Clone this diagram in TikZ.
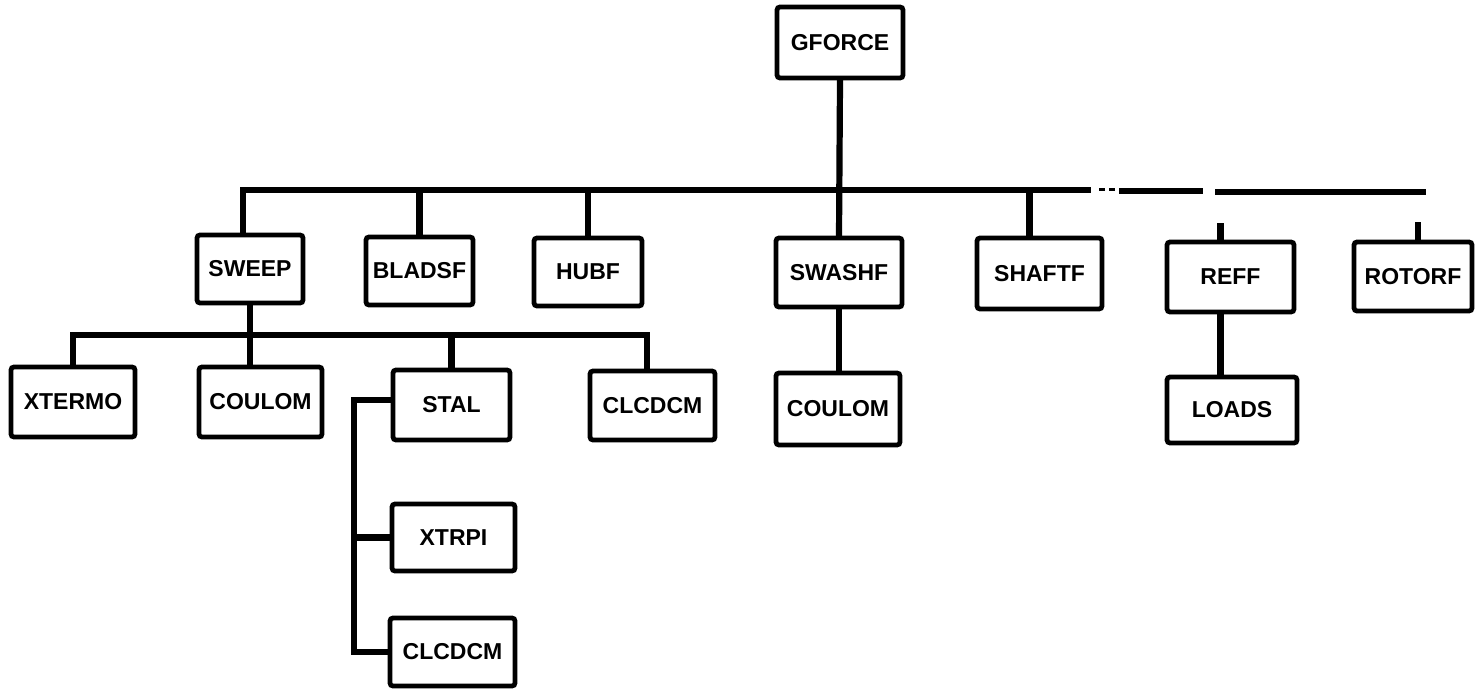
\documentclass[tikz,border=0pt]{standalone}
\usepackage{fontspec}
\setmainfont{Liberation Sans}
\begin{document}
\begin{tikzpicture}[x=0.5pt,y=-0.5pt,
  routine/.style={draw, line width=2.4pt, rounded corners=1.5pt, inner sep=0pt,
    minimum width=#1, font=\fontsize{11.5}{12}\selectfont\bfseries},
  routine/.default=62pt,
  link/.style={line width=3.1pt, line cap=rect}]
\useasboundingbox (0,0) rectangle (1475,689);

% top level
\node[routine=63pt, minimum height=35.5pt] (gforce) at (840,42.5) {GFORCE};

% first level
\node[routine=53pt, minimum height=34pt]   (sweep)  at (250,269)    {SWEEP};
\node[routine=53.5pt, minimum height=34pt] (bladsf) at (419.5,271)  {BLADSF};
\node[routine=54pt, minimum height=34pt]   (hubf)   at (588,272)    {HUBF};
\node[routine=63pt, minimum height=34.5pt] (swashf) at (839,272.5)  {SWASHF};
\node[routine=62.5pt, minimum height=35.5pt] (shaftf) at (1039.5,273.5) {SHAFTF};
\node[routine=63.5pt, minimum height=35pt] (reff)   at (1230.5,277) {REFF};
\node[routine=59pt, minimum height=34.5pt] (rotorf) at (1413,276.5) {ROTORF};

% second level
\node[routine=62pt, minimum height=35pt]   (xtermo)  at (73,402)     {XTERMO};
\node[routine=61.5pt, minimum height=35pt] (coulomA) at (260.5,402)  {COULOM};
\node[routine=58.5pt, minimum height=35pt] (stal)    at (451.5,405)  {STAL};
\node[routine=62.5pt, minimum height=34.5pt] (clcdcmA) at (652.5,405.5) {CLCDCM};
\node[routine=62pt, minimum height=36pt]   (coulomB) at (838,409)    {COULOM};
\node[routine=65pt, minimum height=33pt]   (loads)   at (1232,410)   {LOADS};

% third level
\node[routine=61.5pt, minimum height=33.5pt] (xtrpi)   at (453.5,537.5) {XTRPI};
\node[routine=62.5pt, minimum height=34pt]   (clcdcmB) at (452.5,652)   {CLCDCM};

% bus lines
\coordinate (busA) at (0,190);
\coordinate (busB) at (0,335);
\coordinate (busBend) at (647,335);
\coordinate (spine) at (354,0);

% main bus below GFORCE (broken towards the right)
\draw[link] (gforce.south) -- (swashf.north);
\draw[link] ([xshift=-3.5pt]sweep.north) -- ([xshift=-3.5pt]sweep.north |- busA) -- (1088,190);
\draw[link, line width=1.5pt] (1100,190) -- (1103,190) (1110,190) -- (1113,190);
\draw[link] (1122,191) -- (1200,191);
\draw[link] (1218,192) -- (1423,192);
\draw[link] (bladsf.north) -- (bladsf.north |- busA);
\draw[link] (hubf.north) -- (hubf.north |- busA);
\draw[link] ([xshift=-5pt]shaftf.north) -- ([xshift=-5pt]shaftf.north |- busA);
\draw[link] ([xshift=-5pt]reff.north) -- ++(0,-13);
\draw[link] ([xshift=2.5pt]rotorf.north) -- ++(0,-14);

% SWEEP calls
\draw[link] (sweep.south) -- (sweep.south |- coulomA.north);
\draw[link] (xtermo.north) -- (xtermo.north |- busB) -- (busBend) -- (busBend |- clcdcmA.north);
\draw[link] (stal.north) -- (stal.north |- busB);

% STAL calls
\draw[link] ([yshift=2.5pt]stal.west) -| (spine |- clcdcmB.west) -- (clcdcmB.west);
\draw[link] (xtrpi.west) -- (spine |- xtrpi.west);

% SWASHF and REFF calls
\draw[link] (swashf.south) -- (swashf.south |- coulomB.north);
\draw[link] ([xshift=-5pt]reff.south) -- ([xshift=-5pt]reff.south |- loads.north);
\end{tikzpicture}
\end{document}
